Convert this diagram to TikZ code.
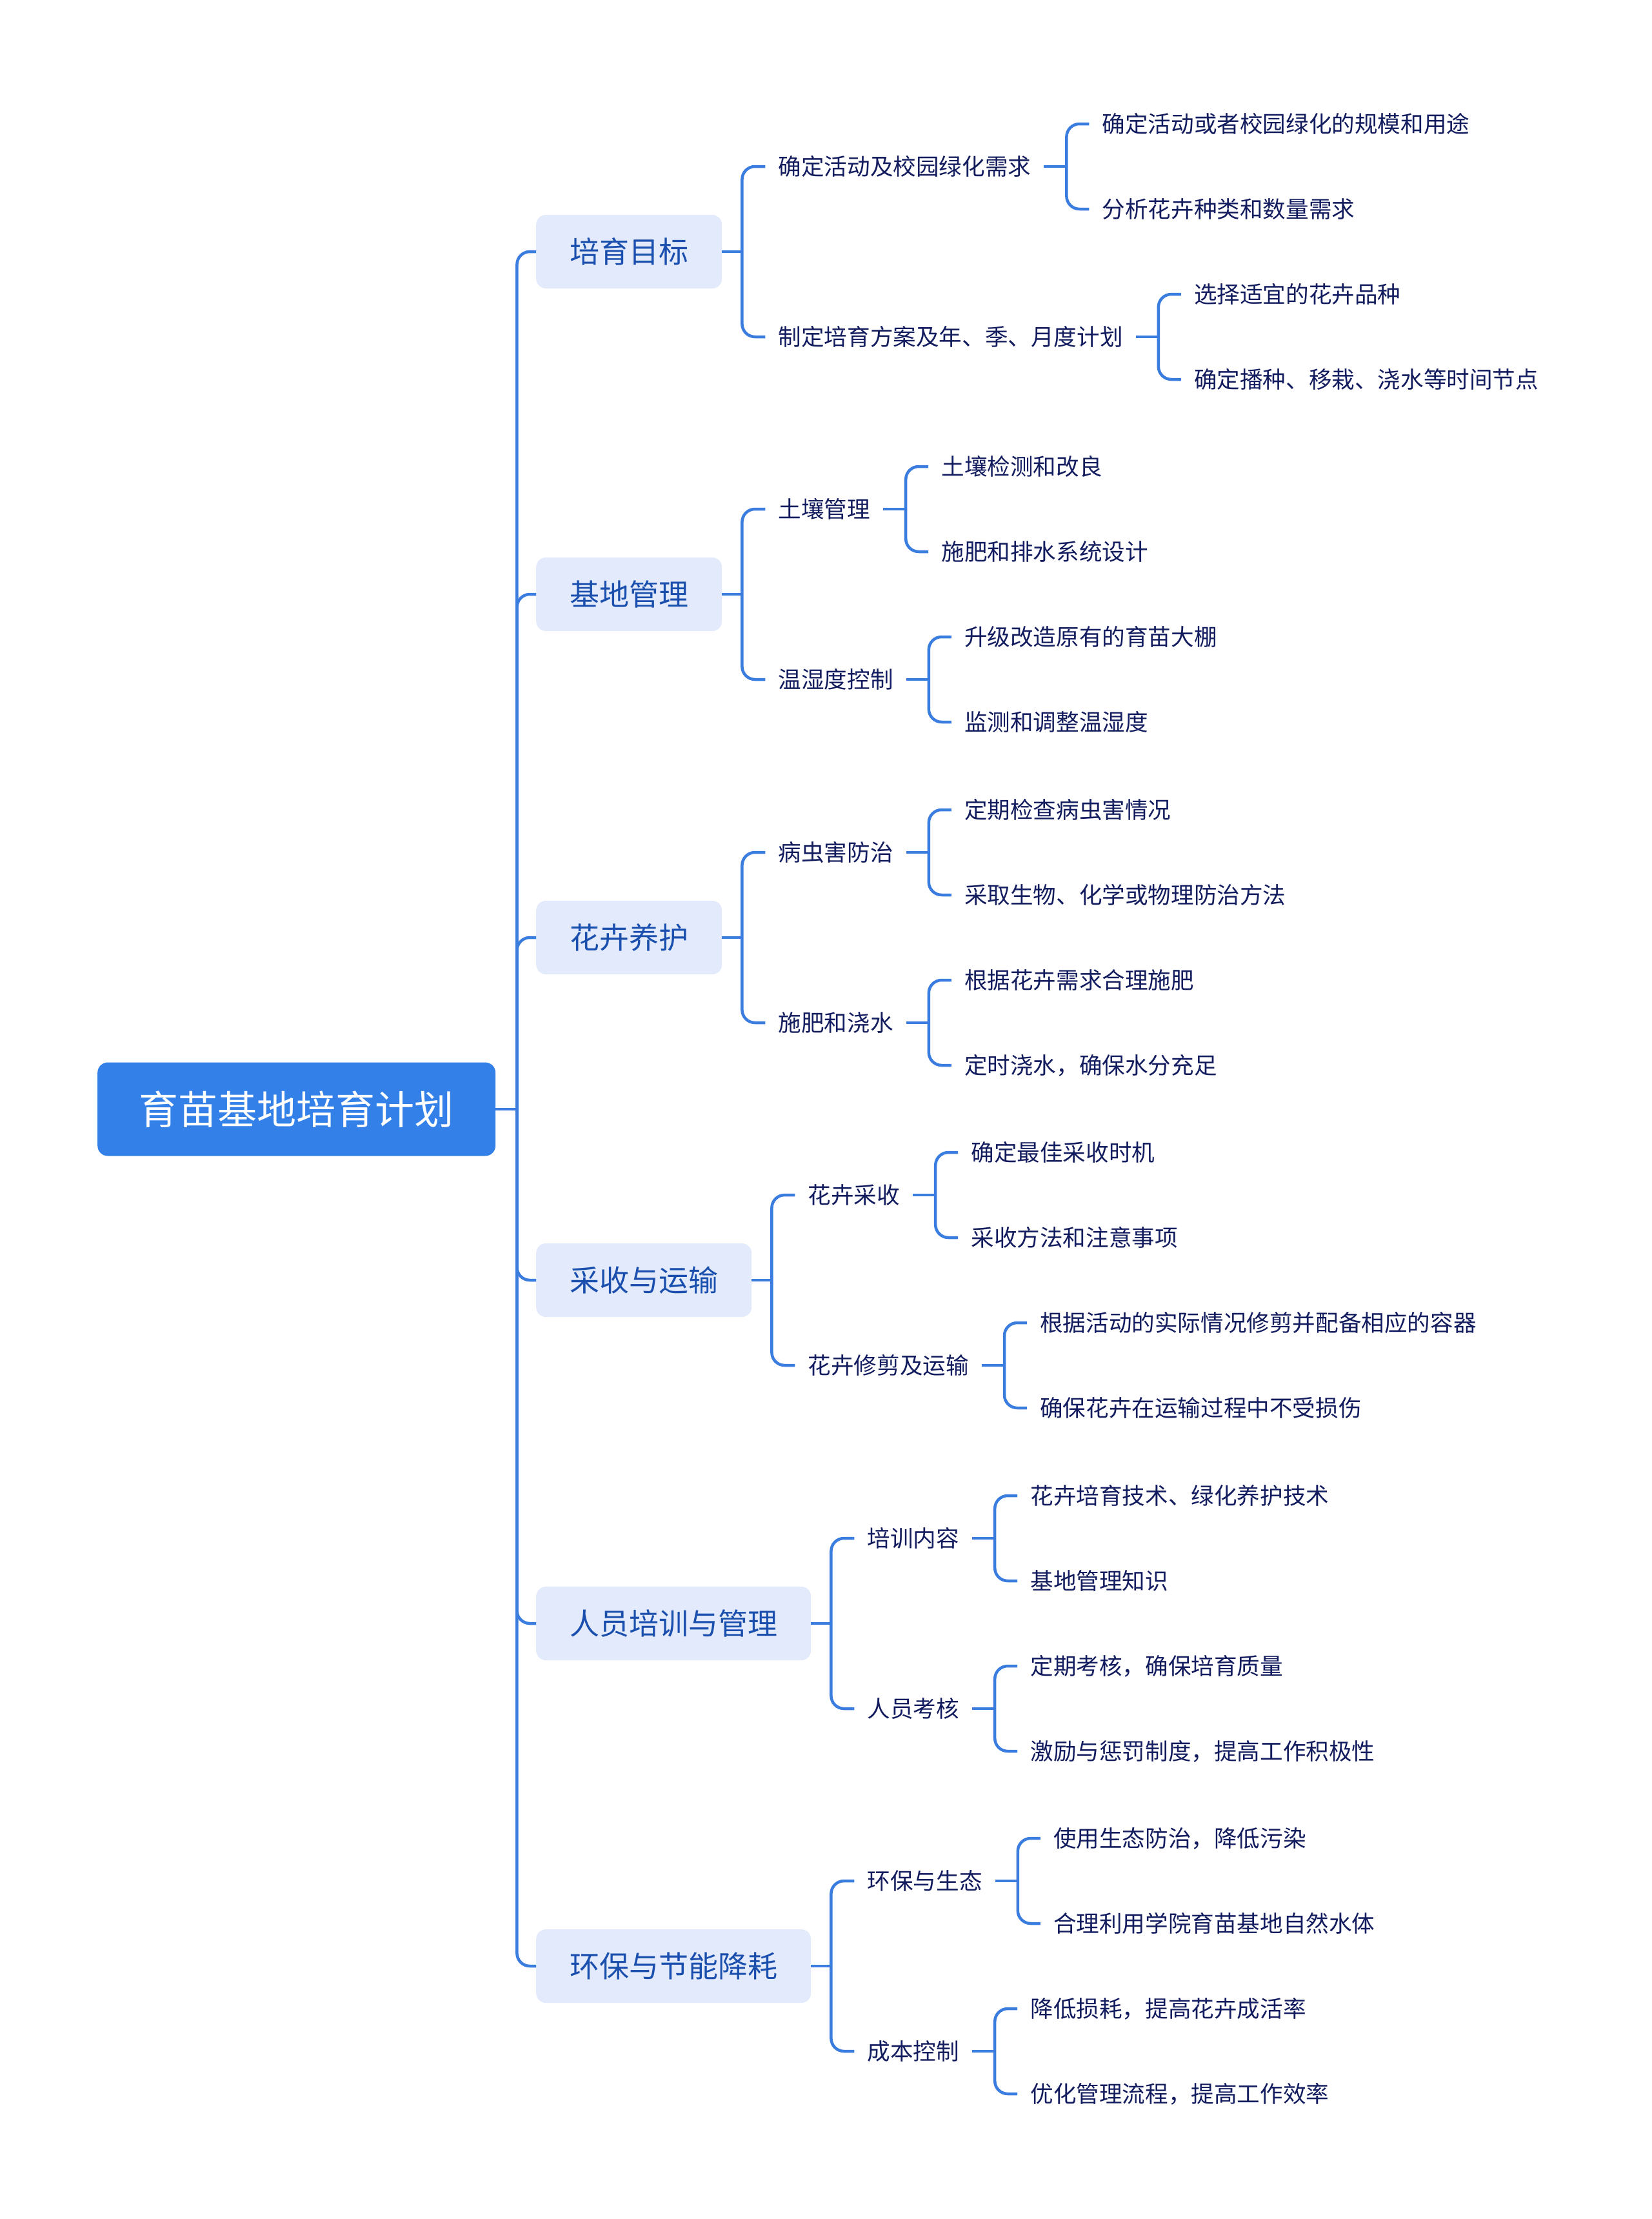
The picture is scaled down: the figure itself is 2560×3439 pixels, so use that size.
\documentclass[tikz,border=0pt]{standalone}
\usepackage{fontspec}
\setmainfont{Noto Sans CJK SC}
\usetikzlibrary{positioning}

\definecolor{linkblue}{HTML}{3A7DDF}
\definecolor{rootblue}{HTML}{3381E8}
\definecolor{boxfill}{HTML}{E2EAFC}
\definecolor{boxtext}{HTML}{1B4FAE}
\definecolor{leaftext}{HTML}{121C5E}

\tikzset{
  rootbox/.style={fill=rootblue, text=white, rounded corners=16pt, minimum height=145pt,
    inner xsep=64.5pt, font=\fontsize{61pt}{70pt}\selectfont, text height=53.7pt, text depth=7.3pt, anchor=west},
  topic/.style={fill=boxfill, text=boxtext, rounded corners=15pt, minimum height=114pt,
    inner xsep=52pt, font=\fontsize{46pt}{52pt}\selectfont, text height=40.5pt, text depth=5.5pt, anchor=west},
  leaf/.style={text=leaftext, inner xsep=20pt, inner ysep=4pt,
    font=\fontsize{35.6pt}{40pt}\selectfont, text height=31.3pt, text depth=4.3pt},
  link/.style={draw=linkblue, line width=4.5pt},
  elbow/.style={link, rounded corners=20pt},
}

\begin{document}
\begin{tikzpicture}[x=1pt,y=-1pt]
  \fill[white] (0,0) rectangle (2560,3439);
  \useasboundingbox (0,0) rectangle (2560,3439);

  \node[rootbox] (root) at (151,1719) {育苗基地培育计划};

  % first level
  \node[topic] (mb) at (831,390) {培育目标};
  \node[topic] (jd) at (831,921) {基地管理};
  \node[topic] (yh) at (831,1453) {花卉养护};
  \node[topic] (cs) at (831,1984) {采收与运输};
  \node[topic] (px) at (831,2516) {人员培训与管理};
  \node[topic] (hb) at (831,3047) {环保与节能降耗};

  % second level
  \node[leaf, right=67pt of mb, yshift=132pt] (mb1) {确定活动及校园绿化需求};
  \node[leaf, right=67pt of mb, yshift=-132pt] (mb2) {制定培育方案及年、季、月度计划};
  \node[leaf, right=67pt of jd, yshift=132pt] (jd1) {土壤管理};
  \node[leaf, right=67pt of jd, yshift=-132pt] (jd2) {温湿度控制};
  \node[leaf, right=67pt of yh, yshift=132pt] (yh1) {病虫害防治};
  \node[leaf, right=67pt of yh, yshift=-132pt] (yh2) {施肥和浇水};
  \node[leaf, right=67pt of cs, yshift=132pt] (cs1) {花卉采收};
  \node[leaf, right=67pt of cs, yshift=-132pt] (cs2) {花卉修剪及运输};
  \node[leaf, right=67pt of px, yshift=132pt] (px1) {培训内容};
  \node[leaf, right=67pt of px, yshift=-132pt] (px2) {人员考核};
  \node[leaf, right=67pt of hb, yshift=132pt] (hb1) {环保与生态};
  \node[leaf, right=67pt of hb, yshift=-132pt] (hb2) {成本控制};

  % third level
  \node[leaf, right=70pt of mb1, yshift=66pt] (mb1-a) {确定活动或者校园绿化的规模和用途};
  \node[leaf, right=70pt of mb1, yshift=-66pt] (mb1-b) {分析花卉种类和数量需求};
  \node[leaf, right=70pt of mb2, yshift=66pt] (mb2-a) {选择适宜的花卉品种};
  \node[leaf, right=70pt of mb2, yshift=-66pt] (mb2-b) {确定播种、移栽、浇水等时间节点};
  \node[leaf, right=70pt of jd1, yshift=66pt] (jd1-a) {土壤检测和改良};
  \node[leaf, right=70pt of jd1, yshift=-66pt] (jd1-b) {施肥和排水系统设计};
  \node[leaf, right=70pt of jd2, yshift=66pt] (jd2-a) {升级改造原有的育苗大棚};
  \node[leaf, right=70pt of jd2, yshift=-66pt] (jd2-b) {监测和调整温湿度};
  \node[leaf, right=70pt of yh1, yshift=66pt] (yh1-a) {定期检查病虫害情况};
  \node[leaf, right=70pt of yh1, yshift=-66pt] (yh1-b) {采取生物、化学或物理防治方法};
  \node[leaf, right=70pt of yh2, yshift=66pt] (yh2-a) {根据花卉需求合理施肥};
  \node[leaf, right=70pt of yh2, yshift=-66pt] (yh2-b) {定时浇水，确保水分充足};
  \node[leaf, right=70pt of cs1, yshift=66pt] (cs1-a) {确定最佳采收时机};
  \node[leaf, right=70pt of cs1, yshift=-66pt] (cs1-b) {采收方法和注意事项};
  \node[leaf, right=70pt of cs2, yshift=66pt] (cs2-a) {根据活动的实际情况修剪并配备相应的容器};
  \node[leaf, right=70pt of cs2, yshift=-66pt] (cs2-b) {确保花卉在运输过程中不受损伤};
  \node[leaf, right=70pt of px1, yshift=66pt] (px1-a) {花卉培育技术、绿化养护技术};
  \node[leaf, right=70pt of px1, yshift=-66pt] (px1-b) {基地管理知识};
  \node[leaf, right=70pt of px2, yshift=66pt] (px2-a) {定期考核，确保培育质量};
  \node[leaf, right=70pt of px2, yshift=-66pt] (px2-b) {激励与惩罚制度，提高工作积极性};
  \node[leaf, right=70pt of hb1, yshift=66pt] (hb1-a) {使用生态防治，降低污染};
  \node[leaf, right=70pt of hb1, yshift=-66pt] (hb1-b) {合理利用学院育苗基地自然水体};
  \node[leaf, right=70pt of hb2, yshift=66pt] (hb2-a) {降低损耗，提高花卉成活率};
  \node[leaf, right=70pt of hb2, yshift=-66pt] (hb2-b) {优化管理流程，提高工作效率};

  % connectors
  \draw[link] (root.east) -- ++(33,0) coordinate (trunk);
  \foreach \g in {mb,jd,yh,cs,px,hb}
    \draw[elbow] (trunk) |- (\g.west);

  \foreach \g in {mb,jd,yh,cs,px,hb} {
    \draw[link] (\g.east) -- ++(31,0) coordinate (\g-j);
    \draw[elbow] (\g-j) |- (\g1.west);
    \draw[elbow] (\g-j) |- (\g2.west);
  }

  \foreach \s in {mb1,mb2,jd1,jd2,yh1,yh2,cs1,cs2,px1,px2,hb1,hb2} {
    \draw[link] (\s.east) -- ++(35,0) coordinate (\s-j);
    \draw[elbow] (\s-j) |- (\s-a.west);
    \draw[elbow] (\s-j) |- (\s-b.west);
  }
\end{tikzpicture}
\end{document}
